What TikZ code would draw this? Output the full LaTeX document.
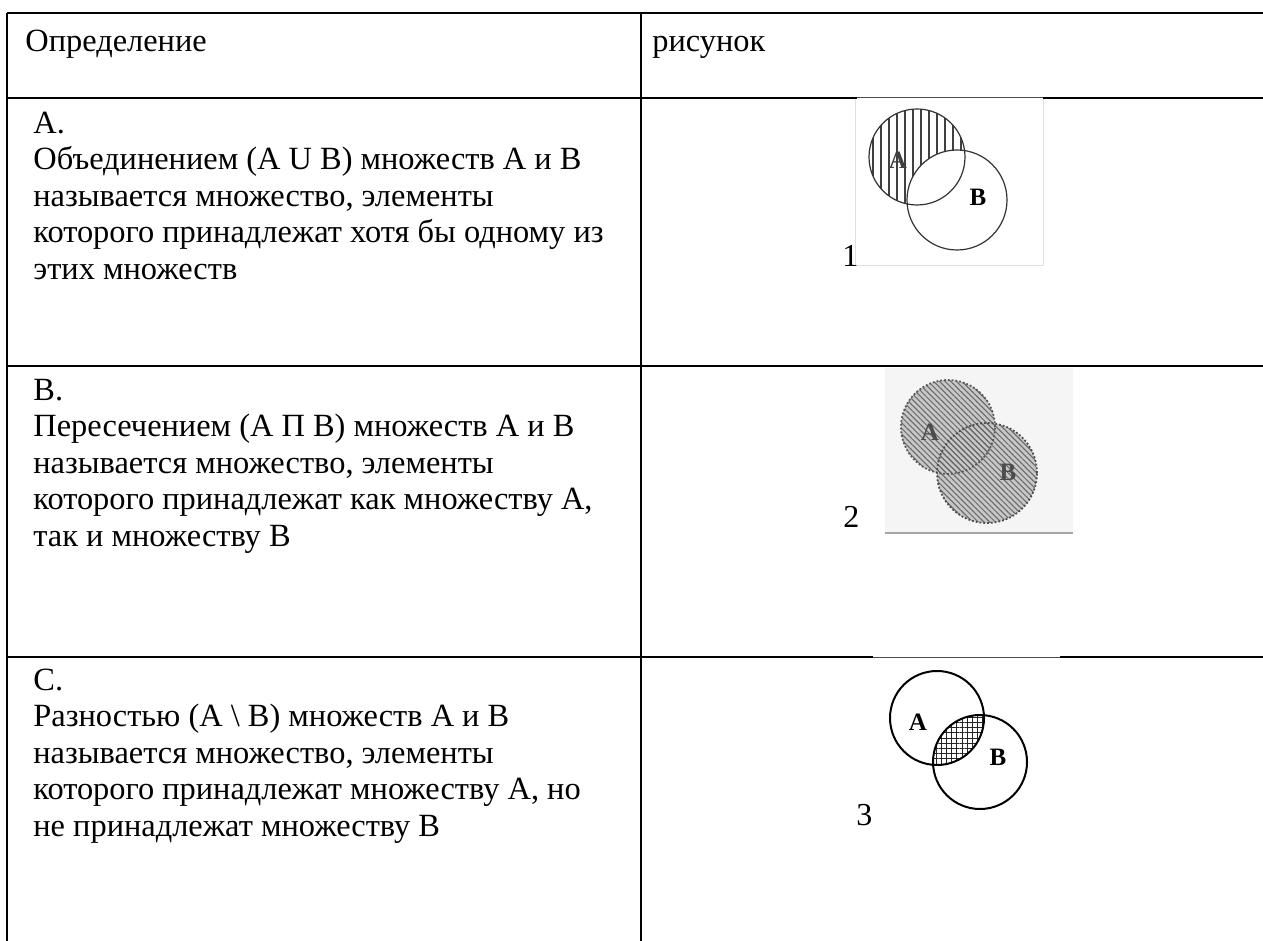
\documentclass[tikz,border=0pt]{standalone}
\usepackage{fontspec}
\setmainfont{Liberation Serif}
\usepackage{tikz}
\usetikzlibrary{patterns.meta}
\tikzset{
  rule/.style={line width=1.4pt, draw=black},
  thinrule/.style={line width=0.5pt, draw=black!70},
  deftext/.style={anchor=base west, align=left, inner sep=0pt, font=\fontsize{16.2}{18.2}\selectfont},
  picnum/.style={anchor=base west, inner sep=0pt, font=\fontsize{16}{18}\selectfont},
  setlbl/.style={inner sep=0pt, font=\fontsize{12.5}{14}\selectfont\bfseries},
  hatch/.style={line width=0.55pt, draw=black!75},
  vennline/.style={line width=0.6pt, draw=black!80},
  vennbold/.style={line width=1pt, draw=black},
  imgframe/.style={line width=0.5pt, draw=black!12}
}

\begin{document}
\begin{tikzpicture}[x=0.5pt, y=-0.5pt]
  \useasboundingbox (0,0) rectangle (1263,941);

  % table grid
  \coordinate (tl) at (7,13);
  \coordinate (tr) at (1263,13);
  \coordinate (bl) at (7,941);
  \coordinate (mt) at (641,13);
  \coordinate (mb) at (641,941);
  \draw[rule] (tl) -- (tr);
  \draw[rule] (tl) -- (bl);
  \draw[rule] (mt) -- (mb);
  \draw[rule] (7,98) -- (857,98);
  \draw[thinrule] (857,98) -- (1043,98);
  \draw[rule] (1043,98) -- (1263,98);
  \draw[rule] (7,366) -- (1263,366);
  \draw[rule] (7,657) -- (873,657);
  \draw[thinrule] (873,657) -- (1060,657);
  \draw[rule] (1060,657) -- (1263,657);

  % header
  \node[deftext] (hdef) at (25,52) {Определение};
  \node[deftext] (hpic) at (652,52) {рисунок};

  % definitions (anchored at the last line)
  \node[deftext] (defA) at (33,279) {A.\\Объединением (A U B) множеств A и B\\называется множество, элементы\\которого принадлежат хотя бы одному из\\этих множеств};
  \node[deftext] (defB) at (33,546) {B.\\Пересечением (A П B) множеств A и B\\называется множество, элементы\\которого принадлежат как множеству A,\\так и множеству B};
  \node[deftext] (defC) at (33,836) {C.\\Разностью (A \textbackslash\ B) множеств A и B\\называется множество, элементы\\которого принадлежат множеству A, но\\не принадлежат множеству B};

  % picture 1: union
  \draw[imgframe] (855,99) -- (855,266) -- (1043,266) -- (1043,99);
  \coordinate (uA) at (917,157);
  \coordinate (uB) at (957,200);
  \begin{scope}
    \clip (uA) circle[radius=24pt];
    \foreach \x in {873,881,...,965} \draw[hatch] (\x,100) -- (\x,215);
    \fill[white] (uB) circle[radius=25pt];
  \end{scope}
  \draw[vennline] (uA) circle[radius=24pt];
  \draw[vennline] (uB) circle[radius=25pt];
  \node[setlbl, text=black!75] (uAl) at (898,160) {A};
  \node[setlbl] (uBl) at (978,197) {B};
  \node[picnum] (n1) at (842,267) {1};

  % picture 2: intersection
  \fill[black!4] (885,368) rectangle (1073,533);
  \draw[line width=1pt, draw=black!35] (885,533) -- (1073,533);
  \coordinate (iA) at (948,427);
  \coordinate (iB) at (987,473);
  \fill[black!22] (iA) circle[radius=23.5pt];
  \fill[black!22] (iB) circle[radius=25pt];
  \fill[pattern={Lines[angle=-45,distance=2pt,line width=0.5pt]}, pattern color=black!60] (iA) circle[radius=23.5pt];
  \fill[pattern={Lines[angle=-45,distance=2pt,line width=0.5pt]}, pattern color=black!60] (iB) circle[radius=25pt];
  \draw[line width=0.9pt, draw=black!65, densely dotted] (iA) circle[radius=23.5pt];
  \draw[line width=0.9pt, draw=black!70, densely dotted] (iB) circle[radius=25pt];
  \node[setlbl, text=black!70] (iAl) at (930,432) {A};
  \node[setlbl, text=black!70] (iBl) at (1008,472) {B};
  \node[picnum] (n2) at (843,527) {2};

  % picture 3: difference
  \coordinate (dA) at (937,718);
  \coordinate (dB) at (980,762);
  \begin{scope}
    \clip (dA) circle[radius=23.5pt];
    \fill[white] (dB) circle[radius=23.5pt];
    \fill[pattern={Hatch[distance=2.6pt,line width=0.5pt]}, pattern color=black!85] (dB) circle[radius=23.5pt];
  \end{scope}
  \draw[vennbold] (dA) circle[radius=23.5pt];
  \draw[vennbold] (dB) circle[radius=23.5pt];
  \node[setlbl] (dAl) at (918,722) {A};
  \node[setlbl] (dBl) at (998,757) {B};
  \node[picnum] (n3) at (856,825) {3};
\end{tikzpicture}
\end{document}
